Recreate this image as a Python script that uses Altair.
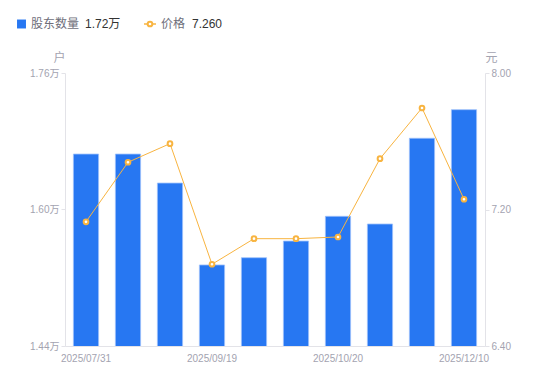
import altair as alt
import pandas as pd

dates = ["2025/07/31", "2025/08/20", "2025/08/31", "2025/09/19", "2025/09/30",
         "2025/10/10", "2025/10/20", "2025/10/31", "2025/11/20", "2025/12/10"]
holders = [1.665, 1.665, 1.631, 1.535, 1.5435, 1.563, 1.592, 1.583, 1.6835, 1.717]  # 万户
price = [7.128, 7.477, 7.586, 6.879, 7.029, 7.029, 7.039, 7.498, 7.795, 7.260]
shown_dates = ["2025/07/31", "2025/09/19", "2025/10/20", "2025/12/10"]
holder_ticks = [1.44, 1.60, 1.76]
price_ticks = [6.40, 7.20, 8.00]

FONT = "Liberation Sans, Noto Sans CJK SC, sans-serif"
BLUE = "#2777F2"
ORANGE = "#F8B440"
AXIS_LINE = "#E3E3E8"
LABEL = "#A3A3B0"

df = pd.DataFrame({"date": dates, "holders": holders, "price": price})

x_axis = alt.X("date:N", sort=dates,
               scale=alt.Scale(paddingInner=0.4, paddingOuter=0.2),
               axis=alt.Axis(title=None, values=shown_dates, labelAngle=0, ticks=False, orient="bottom",
                             domainColor=AXIS_LINE, labelColor=LABEL, labelFontSize=10,
                             labelPadding=7, labelFont=FONT))

bars = alt.Chart(df).mark_bar(color=BLUE, clip=True, stroke="#9DC0FA", strokeWidth=0.8).encode(
    x=x_axis,
    y=alt.Y("holders:Q", scale=alt.Scale(domain=[1.44, 1.76], zero=False, nice=False),
            axis=alt.Axis(title="户", values=holder_ticks, labelExpr="format(datum.value, '.2f') + '万'",
                          grid=False, domainColor=AXIS_LINE, tickColor=AXIS_LINE, tickSize=4,
                          labelColor=LABEL, labelFontSize=10, labelPadding=2, labelFont=FONT,
                          titleAngle=0, titleX=-6, titleY=-16, titleAlign="center",
                          titleBaseline="middle", titleColor=LABEL, titleFontSize=12,
                          titleFontWeight="normal", titleFont=FONT)),
)

price_scale = alt.Scale(domain=[6.4, 8.0], zero=False, nice=False)
line_y = alt.Y("price:Q", scale=price_scale,
               axis=alt.Axis(title="元", orient="right", values=price_ticks, format=".2f",
                             grid=False, domainColor=AXIS_LINE, tickColor=AXIS_LINE, tickSize=4,
                             labelColor=LABEL, labelFontSize=10, labelPadding=2, labelFont=FONT,
                             titleAngle=0, titleX=6, titleY=-16, titleAlign="center",
                             titleBaseline="middle", titleColor=LABEL, titleFontSize=12,
                             titleFontWeight="normal", titleFont=FONT))

line = alt.Chart(df).mark_line(color=ORANGE, strokeWidth=1).encode(x=x_axis, y=line_y)
points = alt.Chart(df).mark_point(filled=True, fill="white", stroke=ORANGE, strokeWidth=2,
                                  size=22, opacity=1).encode(x=x_axis, y=line_y)
price_layer = alt.layer(line, points)

# legend
leg = pd.DataFrame({
    "name": ["股东数量", "价格"],
    "val": [f"{holders[-1]:.2f}万", f"{price[-1]:.3f}"],
})
leg_sq = alt.Chart(leg.iloc[[0]]).mark_square(color=BLUE, size=80, opacity=1).encode(
    x=alt.value(-43.5), y=alt.value(-49))
leg_name1 = alt.Chart(leg.iloc[[0]]).mark_text(align="left", baseline="middle", fontSize=12,
                                               color="#6E6E7A", font=FONT).encode(
    x=alt.value(-34), y=alt.value(-49), text="name:N")
leg_val1 = alt.Chart(leg.iloc[[0]]).mark_text(align="left", baseline="middle", fontSize=12,
                                              color="#333333", font=FONT).encode(
    x=alt.value(20), y=alt.value(-49), text="val:N")
leg_ln = alt.Chart(leg.iloc[[1]]).mark_rule(color=ORANGE, strokeWidth=1.5).encode(
    x=alt.value(79), x2=alt.value(91), y=alt.value(-49))
leg_pt = alt.Chart(leg.iloc[[1]]).mark_point(filled=True, fill="white", stroke=ORANGE,
                                             strokeWidth=2, size=22, opacity=1).encode(
    x=alt.value(85), y=alt.value(-49))
leg_name2 = alt.Chart(leg.iloc[[1]]).mark_text(align="left", baseline="middle", fontSize=12,
                                               color="#6E6E7A", font=FONT).encode(
    x=alt.value(96), y=alt.value(-49), text="name:N")
leg_val2 = alt.Chart(leg.iloc[[1]]).mark_text(align="left", baseline="middle", fontSize=12,
                                              color="#333333", font=FONT).encode(
    x=alt.value(127), y=alt.value(-49), text="val:N")
legend = alt.layer(leg_sq, leg_name1, leg_val1, leg_ln, leg_pt, leg_name2, leg_val2)

chart = alt.layer(bars, price_layer, legend).resolve_scale(y="independent").properties(
    width=420, height=273,
    autosize=alt.AutoSizeParams(type="none"),
    padding={"left": 57, "top": 65, "right": 57, "bottom": 24},
).configure(font=FONT).configure_view(strokeWidth=0)

chart.save("out.html", embed_options={"renderer": "svg", "actions": False})
